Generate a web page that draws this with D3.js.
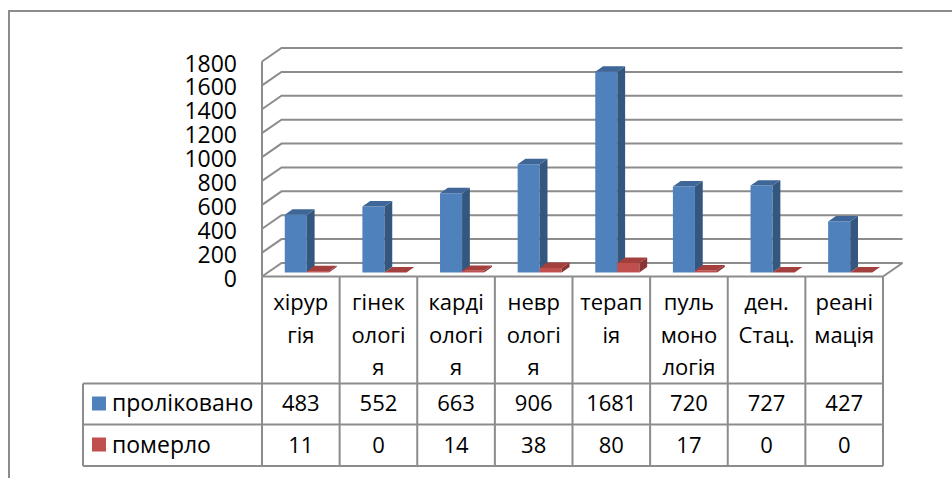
<!DOCTYPE html>
<html><head><meta charset="utf-8">
<script src="https://cdn.jsdelivr.net/npm/d3@7"></script>
<style>
html,body{margin:0;padding:0;background:#fff;}
svg{display:block;font-family:"Open Sans",sans-serif;}
</style></head>
<body>
<script>
// ---- data ----
const categoryLines = [
  ["хірур","гія"],
  ["гінек","ологі","я"],
  ["карді","ологі","я"],
  ["невр","ологі","я"],
  ["терап","ія"],
  ["пуль","моно","логія"],
  ["ден.","Стац."],
  ["реані","мація"]
];
const seriesNames = ["проліковано","померло"];
const treated = [483,552,663,906,1681,720,727,427];
const died = [11,0,14,38,80,17,0,0];
const yTicks = [0,200,400,600,800,1000,1200,1400,1600,1800];

// ---- layout ----
const W = 952, H = 478;
const DX = 19.5, DY = 13.5;
const svg = d3.select("body").append("svg").attr("width",W).attr("height",H);

const x = d3.scaleBand().domain(d3.range(categoryLines.length)).range([262,883]);
const y = d3.scaleLinear().domain([0,1800]).range([276.5,61.5]);
const P = (px,v,z) => [px + z*DX, y(v) - z*DY];

const grid = "#8c8c8c";

// chart border
svg.append("rect").attr("x",9).attr("y",11).attr("width",W).attr("height",H)
  .attr("fill","none").attr("stroke",grid).attr("stroke-width",2);

// gridlines (left wall + back wall)
const gG = svg.append("g").attr("fill","none").attr("stroke",grid).attr("stroke-width",2);
yTicks.forEach(v => {
  const a = P(262,v,0), b = P(262,v,1), c = P(883,v,1);
  gG.append("polyline").attr("points",[a,b,c].map(p=>p.join(",")).join(" "));
});
gG.append("line").attr("x1",262).attr("x2",262).attr("y1",y(0)).attr("y2",y(1800));
{
  const a = P(883,0,0), b = P(883,0,1);
  gG.append("line").attr("x1",a[0]).attr("y1",a[1]).attr("x2",b[0]).attr("y2",b[1]);
}

// tick labels
svg.append("g").selectAll("text").data(yTicks).join("text")
  .attr("x",237).attr("y",d=>y(d)+10)
  .attr("text-anchor","end").attr("font-size",23).attr("fill","#000")
  .text(d=>d);

// bars
const series = [treated, died];
const colors = [
  {front:"#4f81bd", side:"#34577f", top:"#3e6699"},
  {front:"#c0504d", side:"#8a3533", top:"#a3403d"}
];
const bw = x.bandwidth();
const z0 = 0.3, z1 = 0.7;
const bG = svg.append("g");
categoryLines.forEach((c,i) => {
  series.forEach((s,k) => {
    const v = s[i];
    const x0 = x(i) + bw*0.218 + k*bw*0.284, x1 = x0 + bw*0.284;
    const col = colors[k];
    const poly = pts => pts.map(p=>p.join(",")).join(" ");
    bG.append("polygon").attr("fill",col.front)
      .attr("points",poly([P(x0,0,z0),P(x1,0,z0),P(x1,v,z0),P(x0,v,z0)]));
    bG.append("polygon").attr("fill",col.side)
      .attr("points",poly([P(x1,0,z0),P(x1,0,z1),P(x1,v,z1),P(x1,v,z0)]));
    bG.append("polygon").attr("fill",col.top)
      .attr("points",poly([P(x0,v,z0),P(x1,v,z0),P(x1,v,z1),P(x0,v,z1)]));
  });
});

// data table
const tG = svg.append("g").attr("stroke",grid).attr("stroke-width",2).attr("fill","none");
const rowY = [276.5, 383.5, 424.5, 466];
tG.append("line").attr("x1",262).attr("x2",883).attr("y1",rowY[0]).attr("y2",rowY[0]);
[1,2,3].forEach(r => tG.append("line").attr("x1",83).attr("x2",883).attr("y1",rowY[r]).attr("y2",rowY[r]));
d3.range(categoryLines.length+1).forEach(j => {
  const xx = j < categoryLines.length ? x(j) : 883;
  tG.append("line").attr("x1",xx).attr("x2",xx).attr("y1",rowY[0]).attr("y2",rowY[3]);
});
tG.append("line").attr("x1",83).attr("x2",83).attr("y1",rowY[1]).attr("y2",rowY[3]);

const txt = svg.append("g").attr("font-size",22).attr("fill","#000").attr("text-anchor","middle");
categoryLines.forEach((lines,i) => {
  lines.forEach((ln,j) => {
    txt.append("text").attr("x",x(i)+bw/2).attr("y",310 + j*32.5).text(ln);
  });
  txt.append("text").attr("x",x(i)+bw/2).attr("y",411).text(treated[i]);
  txt.append("text").attr("x",x(i)+bw/2).attr("y",453).text(died[i]);
});

// legend keys in table
const lg = svg.append("g");
seriesNames.forEach((n,k) => {
  const cy = k===0 ? 403.5 : 444.5;
  lg.append("rect").attr("x",92).attr("y",cy-7).attr("width",14).attr("height",14).attr("fill",colors[k].front);
  lg.append("text").attr("x",112).attr("y",k===0?411:453).attr("font-size",23).attr("fill","#000").text(n);
});
</script>
</body></html>
